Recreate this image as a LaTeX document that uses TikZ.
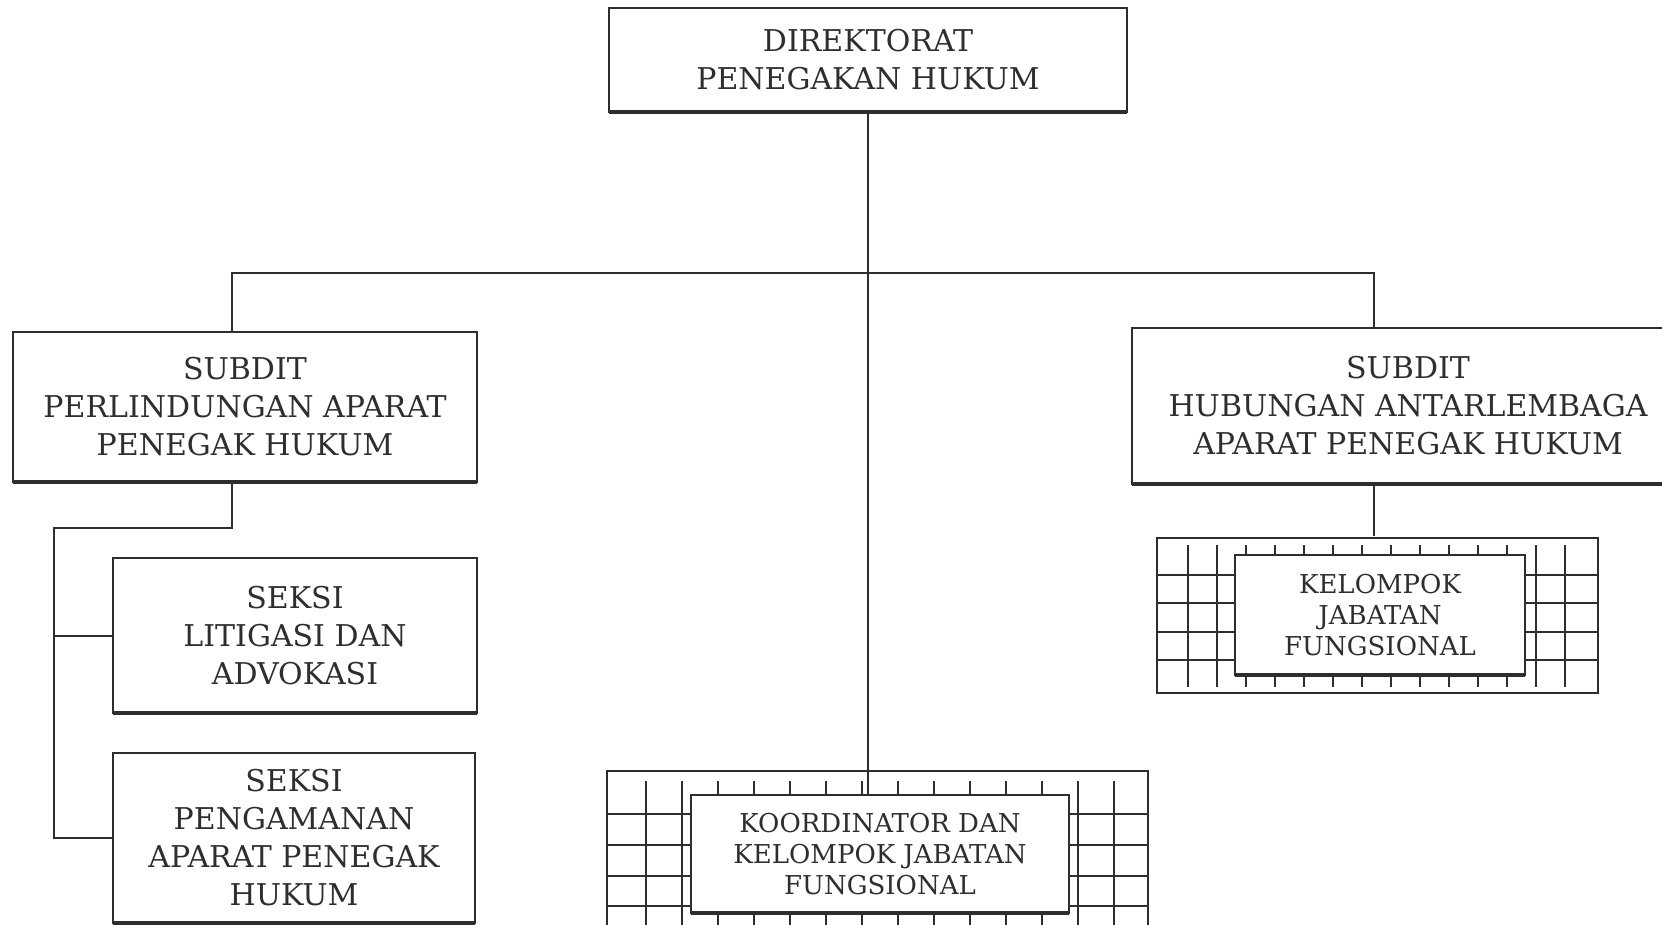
\documentclass[tikz,border=0pt]{standalone}
\usepackage{fontspec}
\setmainfont{DejaVu Serif}
\usepackage{xcolor}
\definecolor{ink}{HTML}{2E2E2E}
\newcommand{\bigfont}{\fontsize{30}{38}\selectfont}
\newcommand{\smallfont}{\fontsize{26}{31}\selectfont}
\tikzset{
  unit/.style={draw=ink, line width=2pt, fill=white, text=ink, align=center, inner sep=0pt, outer sep=0pt, font=\bigfont},
  fung/.style={unit, font=\smallfont},
  link/.style={draw=ink, line width=2pt},
  gridline/.style={draw=ink, line width=2pt},
  foot/.style={draw=ink, line width=4.5pt}
}
\begin{document}
\begin{tikzpicture}[x=1pt,y=-1pt]
	\useasboundingbox[fill=white] (0,0) rectangle (1662,924);

	% grid background of the two functional groups
	\draw[gridline] (607,771) rectangle (1148,960);
	\foreach \x in {0,...,13}
		\draw[gridline] (646+36*\x,781) -- ++(0,170);
	\foreach \y in {814,845,876,906}
		\draw[gridline] (607,\y) -- (1148,\y);

	\draw[gridline] (1157,538) rectangle (1598,693);
	\foreach \x in {0,...,13}
		\draw[gridline] (1188+29*\x,545) -- (1188+29*\x,687);
	\foreach \y in {575,603,632,660}
		\draw[gridline] (1157,\y) -- (1598,\y);

	% boxes
	\node[unit, minimum width=518pt, minimum height=104pt] (dir) at (868,60) {DIREKTORAT\\PENEGAKAN HUKUM};
	\node[unit, minimum width=464pt, minimum height=150pt] (subL) at (245,407) {SUBDIT\\PERLINDUNGAN APARAT\\PENEGAK HUKUM};
	\node[unit, minimum width=552pt, minimum height=156pt] (subR) at (1408,406) {SUBDIT\\HUBUNGAN ANTARLEMBAGA\\APARAT PENEGAK HUKUM};
	\node[unit, minimum width=364pt, minimum height=155pt] (sek1) at (295,635.5) {SEKSI\\LITIGASI DAN\\ADVOKASI};
	\node[unit, minimum width=362pt, minimum height=170pt] (sek2) at (294,838) {SEKSI\\PENGAMANAN\\APARAT PENEGAK\\HUKUM};
	\node[fung, minimum width=378pt, minimum height=118pt] (fungC) at (880,854) {KOORDINATOR DAN\\KELOMPOK JABATAN\\FUNGSIONAL};
	\node[fung, minimum width=290pt, minimum height=120pt] (fungR) at (1380,615) {KELOMPOK\\JABATAN\\FUNGSIONAL};
	\foreach \n in {dir,subL,subR,sek1,sek2,fungC,fungR}
		\draw[foot] (\n.south west) -- (\n.south east);

	% lines
	\coordinate (bus) at (868,273);
	\coordinate (spine) at (54,528);
	\draw[link] (dir.south) -- (dir.south |- fungC.north);
	\draw[link] ([xshift=-13pt]subL.north) |- (bus) -| ([xshift=-34pt]subR.north);
	\draw[link] ([xshift=-13pt]subL.south) |- (spine) |- (sek2.west);
	\draw[link] (spine |- sek1.west) -- (sek1.west);
	\draw[link] ([xshift=-34pt]subR.south) -- ++(0,52);
\end{tikzpicture}
\end{document}
